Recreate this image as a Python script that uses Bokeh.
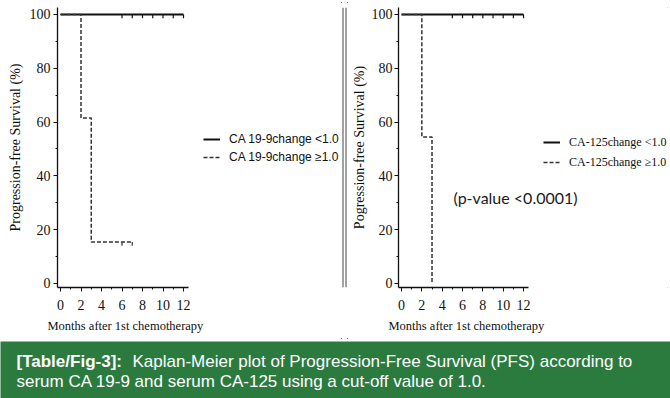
import math
from bokeh.plotting import figure
from bokeh.models import Range1d, FixedTicker, Label, Legend, LegendItem, Span, Title
from bokeh.layouts import row, column
from bokeh.embed import file_html
from bokeh.resources import INLINE

# ---------------- data ----------------
x_ticks = [0, 2, 4, 6, 8, 10, 12]
x_minor = [1, 3, 5, 7, 9, 11]
y_ticks = [0, 20, 40, 60, 80, 100]
y_minor = [10, 30, 50, 70, 90]

ca199_low_t = [0, 12]
ca199_low_s = [100, 100]
ca199_low_cens = [6, 7, 8, 9, 10, 11, 12]
ca199_high_t = [0, 2, 3, 7]
ca199_high_s = [100, 61.5, 15.4, 15.4]
ca199_high_cens = [6, 7]

ca125_low_t = [0, 12]
ca125_low_s = [100, 100]
ca125_low_cens = [5, 6, 7, 8, 9, 10, 11, 12]
ca125_high_t = [0, 2, 3]
ca125_high_s = [100, 54.5, 0]
ca125_high_cens = []

labels_199 = ["CA 19-9change <1.0", "CA 19-9change \u22651.0"]
labels_125 = ["CA-125change <1.0", "CA-125change \u22651.0"]
x_title = "Months after 1st chemotherapy"
y_title_left = "Progression-free Survival (%)"
y_title_right = "Pogression-free Survival (%)"
p_text = "(p-value <0.0001)"
cap_bold = "[Table/Fig-3]:"
cap_line1 = "Kaplan-Meier plot of Progression-Free Survival (PFS) according to"
cap_line2 = "serum CA 19-9 and serum CA-125 using a cut-off value of 1.0."

GREEN = "#2b7b3f"
TICK = 1.4
SERIF = "Liberation Serif"
ROW_H = 341


def surv_at(ts, ss, c):
    v = ss[0]
    for t, s in zip(ts, ss):
        if t <= c:
            v = s
    return v


def panel(width, left_border, px_per_unit, legend_labels, legend_font, legend_size,
          legend_loc, glyph_h, ytitle, ytitle_standoff, ylabel_standoff, curves):
    frame_w = width - left_border
    xs = -3.0 / px_per_unit
    xe = xs + frame_w / px_per_unit
    p = figure(width=width, height=ROW_H, output_backend="svg", toolbar_location=None,
               x_range=Range1d(xs, xe), y_range=Range1d(-1.487, 102.6),
               min_border_left=left_border, min_border_right=0,
               min_border_top=7, min_border_bottom=54)
    p.outline_line_color = None
    p.grid.visible = False
    p.background_fill_color = "white"

    p.xaxis.ticker = FixedTicker(ticks=x_ticks, minor_ticks=x_minor)
    p.yaxis.ticker = FixedTicker(ticks=y_ticks, minor_ticks=y_minor)
    p.xaxis.bounds = (xs, 12.5)
    for ax in (p.xaxis, p.yaxis):
        ax.axis_line_color = "#111111"
        ax.axis_line_width = 1.3
        ax.major_tick_line_color = "#111111"
        ax.minor_tick_line_color = "#111111"
        ax.major_tick_out = 4
        ax.major_tick_in = 0
        ax.minor_tick_out = 2
        ax.minor_tick_in = 0
        ax.major_label_text_font = SERIF
        ax.major_label_text_font_size = "14px"
        ax.major_label_text_color = "#111111"
    p.xaxis.major_label_standoff = 8
    p.yaxis.major_label_standoff = ylabel_standoff

    renderers = []
    for (ts, ss, cens, dash, lw, col) in curves:
        r = p.step(x=ts, y=ss, mode="after", line_color=col, line_width=lw, line_dash=dash)
        renderers.append(r)
        if cens:
            cy = [surv_at(ts, ss, c) for c in cens]
            p.segment(x0=cens, y0=cy, x1=cens, y1=[v - TICK for v in cy],
                      line_color=col, line_width=1.2)

    legend = Legend(items=[LegendItem(label=legend_labels[0], renderers=[renderers[0]]),
                           LegendItem(label=legend_labels[1], renderers=[renderers[1]])],
                    location=legend_loc, orientation="vertical",
                    background_fill_alpha=0, border_line_color=None,
                    padding=0, margin=0, spacing=2, glyph_width=17,
                    glyph_height=glyph_h, label_height=glyph_h, label_standoff=9,
                    label_text_font=legend_font, label_text_font_size=legend_size,
                    label_text_color="#111111")
    p.add_layout(legend)

    p.add_layout(Title(text=ytitle, align="center", offset=15, standoff=ytitle_standoff,
                       text_font=SERIF, text_font_size="14px", text_font_style="normal",
                       text_color="#111111"), "left")
    p.add_layout(Title(text=x_title, align="left", offset=-10, standoff=8,
                       text_font=SERIF, text_font_size="12.5px", text_font_style="normal",
                       text_color="#111111"), "below")
    return p


p1 = panel(341, 57, 10.25, labels_199, "Liberation Sans", "12px", (146, 122), 16,
           y_title_left, 8, 3,
           [(ca199_low_t, ca199_low_s, ca199_low_cens, "solid", 2, "#111111"),
            (ca199_high_t, ca199_high_s, ca199_high_cens, "4 2", 1.5, "#333333")])

p2 = panel(323, 51, 10.17, labels_125, SERIF, "12px", (145, 116), 18,
           y_title_right, 3, 2,
           [(ca125_low_t, ca125_low_s, ca125_low_cens, "solid", 2, "#111111"),
            (ca125_high_t, ca125_high_s, ca125_high_cens, "4 2", 1.5, "#333333")])
p2.add_layout(Label(x=55, y=90, x_units="screen", y_units="screen", text=p_text,
                    text_baseline="middle", text_font="Lato", text_font_size="16px",
                    text_color="#1a1a1a"))

# divider
d = figure(width=6, height=ROW_H, output_backend="svg", toolbar_location=None,
           x_range=Range1d(0, 6), y_range=Range1d(0, 1), min_border=0,
           x_axis_type=None, y_axis_type=None)
d.outline_line_color = None
d.grid.visible = False
d.add_layout(Span(location=1.5, dimension="height", line_color="#444444", line_width=1))
d.add_layout(Span(location=4.5, dimension="height", line_color="#444444", line_width=1))

# caption
c = figure(width=670, height=57, output_backend="svg", toolbar_location=None,
           x_range=Range1d(0, 1), y_range=Range1d(0, 1), min_border=0,
           x_axis_type=None, y_axis_type=None)
c.outline_line_color = None
c.grid.visible = False
c.background_fill_color = GREEN
c.border_fill_color = GREEN
CAPFONT = "Liberation Sans"
c.add_layout(Label(x=16, y=37, x_units="screen", y_units="screen", text=cap_bold,
                   text_font=CAPFONT, text_font_style="bold", text_font_size="17px",
                   text_color="white", text_baseline="middle"))
c.add_layout(Label(x=132, y=37, x_units="screen", y_units="screen", text=cap_line1,
                   text_font=CAPFONT, text_font_size="17px",
                   text_color="white", text_baseline="middle"))
c.add_layout(Label(x=16, y=17, x_units="screen", y_units="screen", text=cap_line2,
                   text_font=CAPFONT, text_font_size="17px",
                   text_color="white", text_baseline="middle"))

top = row(p1, d, p2, spacing=0,
          styles={"outline": "1.5px solid #2f6b3d", "outline-offset": "-3px"})
layout = column(top, c, spacing=0)

open("out.html", "w").write(file_html(layout, INLINE))
